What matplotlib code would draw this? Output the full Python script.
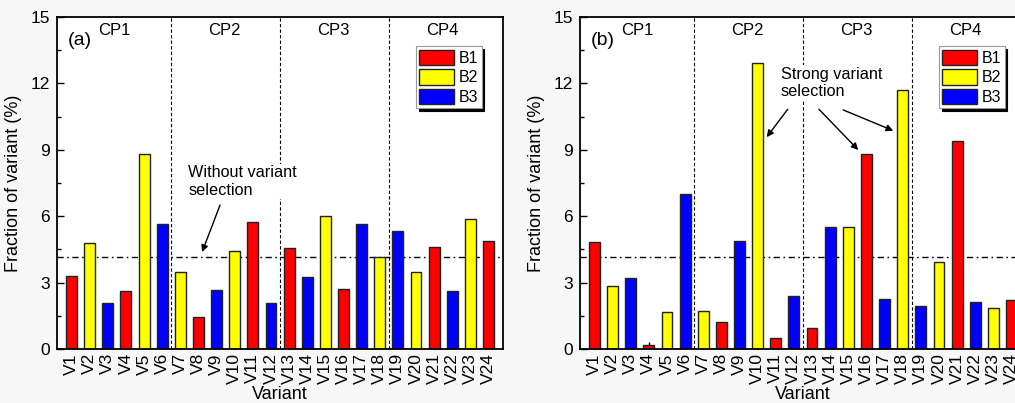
import numpy as np
import matplotlib
matplotlib.use('Agg')
import matplotlib.pyplot as plt

plt.rcParams['font.family'] = ['Liberation Sans', 'DejaVu Sans']

variants = ['V%d' % i for i in range(1, 25)]
# bain group of each variant (B1/B2/B3)
groups = ['B1', 'B2', 'B3', 'B1', 'B2', 'B3',
          'B2', 'B1', 'B3', 'B2', 'B1', 'B3',
          'B1', 'B3', 'B2', 'B1', 'B3', 'B2',
          'B3', 'B2', 'B1', 'B3', 'B2', 'B1']
frac_a = [3.30, 4.80, 2.06, 2.61, 8.80, 5.64,
          3.50, 1.44, 2.65, 4.41, 5.74, 2.06,
          4.58, 3.23, 6.00, 2.70, 5.64, 4.17,
          5.33, 3.47, 4.61, 2.62, 5.89, 4.86]
frac_b = [4.85, 2.85, 3.20, 0.20, 1.65, 7.00,
          1.73, 1.23, 4.88, 12.91, 0.50, 2.39,
          0.94, 5.50, 5.50, 8.80, 2.27, 11.70,
          1.94, 3.91, 9.40, 2.14, 1.86, 2.21]
cp_labels = ['CP1', 'CP2', 'CP3', 'CP4']
random_level = 100 / 24

colors = {'B1': '#ff0000', 'B2': '#ffff00', 'B3': '#0000ff'}

fig = plt.figure(figsize=(10.15, 4.03), dpi=100, facecolor='#f7f7f7')
ax1 = fig.add_axes([0.0562, 0.134, 0.4394, 0.824])
ax2 = fig.add_axes([0.5714, 0.134, 0.4394, 0.824])

x = np.arange(1, 25)


def draw_panel(ax, values, tag):
    ax.set_facecolor('white')
    ax.axhline(random_level, color='black', lw=1, ls=(0, (4.5, 2.5, 1.2, 2.5)), zorder=1)
    for xv in [6.5, 12.5, 18.5]:
        ax.axvline(xv, color='black', lw=0.8, ls=(0, (3, 2)), zorder=1)
    bar_colors = [colors[g] for g in groups]
    ax.bar(x, values, width=0.6, color=bar_colors, edgecolor='#222222', linewidth=1, zorder=2)
    # legend handles
    for g in ['B1', 'B2', 'B3']:
        ax.bar([0], [0], color=colors[g], edgecolor='#222222', linewidth=1, label=g)

    ax.set_xlim(0.2, 24.8)
    ax.set_ylim(0, 15)
    ax.set_yticks([0, 3, 6, 9, 12, 15])
    ax.set_yticks(np.arange(1.5, 15, 3), minor=True)
    ax.set_xticks(x)
    ax.set_xticklabels(variants, rotation=90, fontsize=12.5)
    ax.tick_params(axis='y', direction='in', length=5, width=1, labelsize=12.5, pad=5)
    ax.tick_params(axis='y', which='minor', direction='in', length=3, width=1)
    ax.tick_params(axis='x', direction='in', length=5, width=1, pad=3)
    for s in ax.spines.values():
        s.set_linewidth(1.3)
    ax.set_xlabel('Variant', fontsize=13)
    ax.xaxis.set_label_coords(0.5, -0.11)
    ax.set_ylabel('Fraction of variant (%)', fontsize=13, labelpad=6)

    ax.text(0.025, 0.955, tag, transform=ax.transAxes, fontsize=14, va='top', ha='left')
    for lab, cx in zip(cp_labels, [3.35, 9.45, 15.45, 21.45]):
        ax.text(cx, 14.37, lab, fontsize=12, ha='center', va='center')

    leg = ax.legend(loc='upper right', bbox_to_anchor=(0.952, 0.911), borderaxespad=0,
                    fontsize=11.5, handlelength=2.2, handleheight=1.1, labelspacing=0.22,
                    handletextpad=0.3, borderpad=0.2, fancybox=False, framealpha=1,
                    edgecolor='#999999', shadow={'color': 'black', 'alpha': 1})
    leg.get_frame().set_linewidth(0.8)


draw_panel(ax1, frac_a, '(a)')
draw_panel(ax2, frac_b, '(b)')

bbox = dict(facecolor='white', edgecolor='none', pad=1)
arrow = dict(arrowstyle='-|>', color='black', lw=1, mutation_scale=10, shrinkA=0, shrinkB=0)

ax1.text(7.43, 7.57, 'Without variant\nselection', fontsize=11.7, ha='left', va='center',
         linespacing=1.2, bbox=bbox, zorder=3)
ax1.annotate('', xy=(8.2, 4.38), xytext=(9.19, 6.5), arrowprops=arrow)

ax2.text(11.27, 12.02, 'Strong variant\nselection', fontsize=11.7, ha='left', va='center',
         linespacing=1.2, bbox=bbox, zorder=3)
ax2.annotate('', xy=(10.5, 9.57), xytext=(11.66, 10.83), arrowprops=arrow)
ax2.annotate('', xy=(15.55, 8.99), xytext=(13.38, 10.83), arrowprops=arrow)
ax2.annotate('', xy=(17.48, 9.86), xytext=(14.72, 10.8), arrowprops=arrow)

fig.savefig('out.png', dpi=100, facecolor=fig.get_facecolor())
